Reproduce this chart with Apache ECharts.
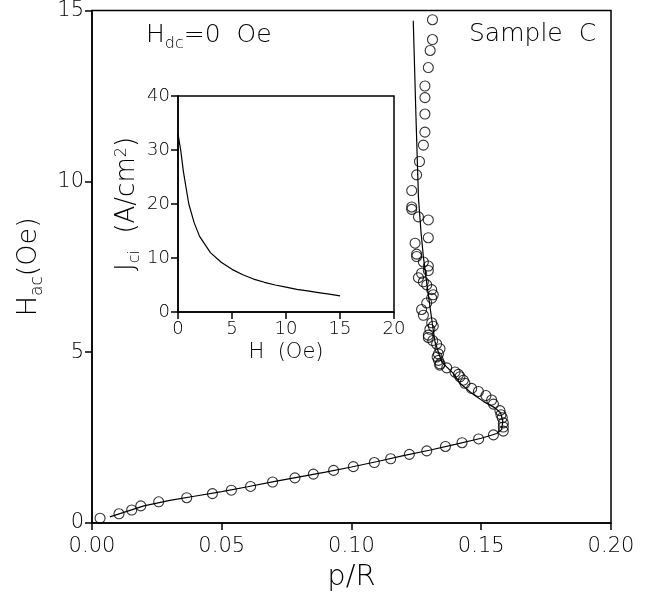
<!DOCTYPE html>
<html><head><meta charset="utf-8">
<script src="https://cdn.jsdelivr.net/npm/echarts@6/dist/echarts.min.js"></script>
<style>html,body{margin:0;padding:0;background:#fff}#c{width:649px;height:597px}</style>
</head><body><div id="c"></div>
<script>
// Main plot: measured points (p/R, Hac)
const dataP = [0.0031,0.0104,0.0153,0.0188,0.0257,0.0365,0.0464,0.0537,0.0611,0.0696,0.0782,0.0853,0.0931,0.1007,0.1088,0.1151,0.1223,0.1290,0.1362,0.1426,0.1490,0.1547,0.1585,0.1585,0.1585,0.1581,0.1576,0.1572,0.1547,0.1540,0.1518,0.1489,0.1463,0.1437,0.1431,0.1418,0.1399,0.1367,0.1340,0.1412,0.1341,0.1335,0.1330,0.1335,0.1341,0.1328,0.1313,0.1296,0.1296,0.1302,0.1315,0.1309,0.1277,0.1270,0.1290,0.1309,0.1315,0.1309,0.1290,0.1277,0.1258,0.1270,0.1296,0.1296,0.1277,0.1251,0.1251,0.1245,0.1296,0.1296,0.1258,0.1232,0.1232,0.1232,0.1251,0.1262,0.1277,0.1283,0.1283,0.1283,0.1283,0.1296,0.1303,0.1312,0.1312];
const dataH = [0.14,0.27,0.38,0.50,0.62,0.74,0.86,0.96,1.07,1.20,1.32,1.43,1.54,1.65,1.77,1.88,2.01,2.11,2.24,2.35,2.46,2.58,2.69,2.81,2.93,3.08,3.17,3.29,3.48,3.60,3.73,3.85,3.94,4.09,4.18,4.28,4.42,4.54,4.62,4.35,4.66,4.76,4.86,4.95,5.10,5.24,5.34,5.43,5.50,5.67,5.76,5.86,6.08,6.25,6.44,6.58,6.68,6.83,6.97,7.06,7.18,7.31,7.39,7.52,7.64,7.80,7.87,8.19,8.35,8.87,8.96,9.18,9.25,9.73,10.19,10.58,11.06,11.44,11.97,12.45,12.79,13.33,13.83,14.15,14.73];
// Main plot: fitted curve
const fitP = [0.1238,0.1248,0.1258,0.1268,0.1277,0.1290,0.1303,0.1314,0.1322,0.1348,0.1393,0.1418,0.1463,0.1508,0.1553,0.1575,0.1583,0.1579,0.1560,0.150,0.140,0.130,0.120,0.110,0.100,0.090,0.080,0.070,0.060,0.050,0.040,0.030,0.020,0.0069];
const fitH = [14.70,12.0,9.52,8.5,7.79,7.02,6.3,5.7,5.29,4.71,4.37,4.09,3.80,3.56,3.37,3.22,2.98,2.74,2.62,2.48,2.30,2.13,1.97,1.80,1.64,1.49,1.35,1.21,1.06,0.92,0.79,0.66,0.50,0.18];
// Inset: Jci vs H
const insetH = [0,0.25,0.5,1,1.5,2,3,4,5,6,7,8,9,10,11,12,13,14,15];
const insetJ = [33,30,26,20,16.5,14,11,9.2,7.9,6.9,6.1,5.5,5.0,4.6,4.2,3.9,3.6,3.3,3.0];
// Tick settings
const mainXTicks = {min:0, max:0.2, interval:0.05};
const mainYTicks = {min:0, max:15, interval:5};
const insetXTicks = {min:0, max:20, interval:5};
const insetYTicks = {min:0, max:40, interval:10};

const FF = 'DejaVu Sans';
const FW = 200;
const base = {fontFamily: FF, fontWeight: FW, color: '#000'};
const axisCommon = (fs) => ({
  axisLine: {show: true, onZero: false, lineStyle: {color: '#000', width: 1.5}},
  axisTick: {show: true, inside: false, length: 7, lineStyle: {color: '#000', width: 1.5}},
  splitLine: {show: false},
  axisLabel: Object.assign({fontSize: fs}, base)
});
const zip = (a, b) => a.map((v, i) => [v, b[i]]);

const chart = echarts.init(document.getElementById('c'), null, {renderer: 'canvas'});
const mainX = axisCommon(21);
mainX.axisLabel.formatter = v => v.toFixed(2);
mainX.axisLabel.margin = 13;
const mainY = axisCommon(21);
mainY.axisLabel.margin = 8;
chart.setOption({
  backgroundColor: '#fff',
  animation: false,
  grid: [
    {left: 92, top: 10, width: 519, height: 521, show: true, borderColor: '#000', borderWidth: 1.5, backgroundColor: 'transparent'},
    {left: 178, top: 96, width: 216, height: 216, show: true, borderColor: '#000', borderWidth: 1.5, backgroundColor: '#fff'}
  ],
  xAxis: [
    Object.assign(mainX, {gridIndex: 0, type: 'value', min: mainXTicks.min, max: mainXTicks.max, interval: mainXTicks.interval,
      name: 'p/R', nameLocation: 'middle', nameGap: 40, nameTextStyle: Object.assign({fontSize: 29}, base)}),
    Object.assign(axisCommon(18), {gridIndex: 1, type: 'value', min: insetXTicks.min, max: insetXTicks.max, interval: insetXTicks.interval,
      name: 'H  (Oe)', nameLocation: 'middle', nameGap: 30, nameTextStyle: Object.assign({fontSize: 21}, base)})
  ],
  yAxis: [
    Object.assign(mainY, {gridIndex: 0, type: 'value', min: mainYTicks.min, max: mainYTicks.max, interval: mainYTicks.interval,
      name: '{a|H}{s|ac}{a|(Oe)}', nameLocation: 'middle', nameGap: 46,
      nameTextStyle: {rich: {
        a: Object.assign({fontSize: 27, lineHeight: 27, verticalAlign: 'top'}, base),
        s: Object.assign({fontSize: 17, lineHeight: 17, padding: [14, 0, 0, 0], verticalAlign: 'top'}, base)}}}),
    Object.assign(axisCommon(18), {gridIndex: 1, type: 'value', min: insetYTicks.min, max: insetYTicks.max, interval: insetYTicks.interval,
      name: '{a|J}{s|ci}{a|  (A/cm}{p|2}{a|)}', nameLocation: 'middle', nameGap: 38,
      nameTextStyle: {rich: {
        a: Object.assign({fontSize: 26, lineHeight: 26, verticalAlign: 'top'}, base),
        s: Object.assign({fontSize: 16, lineHeight: 16, padding: [13, 0, 0, 0], verticalAlign: 'top'}, base),
        p: Object.assign({fontSize: 16, lineHeight: 16, verticalAlign: 'top'}, base)}}})
  ],
  graphic: [
    {type: 'text', left: 146, top: 23, z: 100, style: {text: '{a|H}{s|dc}{a|=0  Oe}', rich: {
      a: Object.assign({fontSize: 25, lineHeight: 25, verticalAlign: 'top'}, base),
      s: Object.assign({fontSize: 16, lineHeight: 16, padding: [13, 0, 0, 0], verticalAlign: 'top'}, base)}}},
    {type: 'text', left: 469, top: 22, z: 100, style: {text: 'Sample  C', fontSize: 25, fontFamily: FF, fontWeight: FW, fill: '#000'}}
  ],
  series: [
    {type: 'line', xAxisIndex: 0, yAxisIndex: 0, data: zip(fitP, fitH), showSymbol: false, symbol: 'none',
      lineStyle: {color: '#000', width: 1.2}, z: 2},
    {type: 'scatter', xAxisIndex: 0, yAxisIndex: 0, data: zip(dataP, dataH), symbol: 'circle', symbolSize: 10,
      itemStyle: {color: 'transparent', borderColor: '#000', borderWidth: 1.1}, z: 3},
    {type: 'line', xAxisIndex: 1, yAxisIndex: 1, data: zip(insetH, insetJ), showSymbol: false, symbol: 'none',
      lineStyle: {color: '#000', width: 1.2}, z: 5}
  ]
});
</script></body></html>
